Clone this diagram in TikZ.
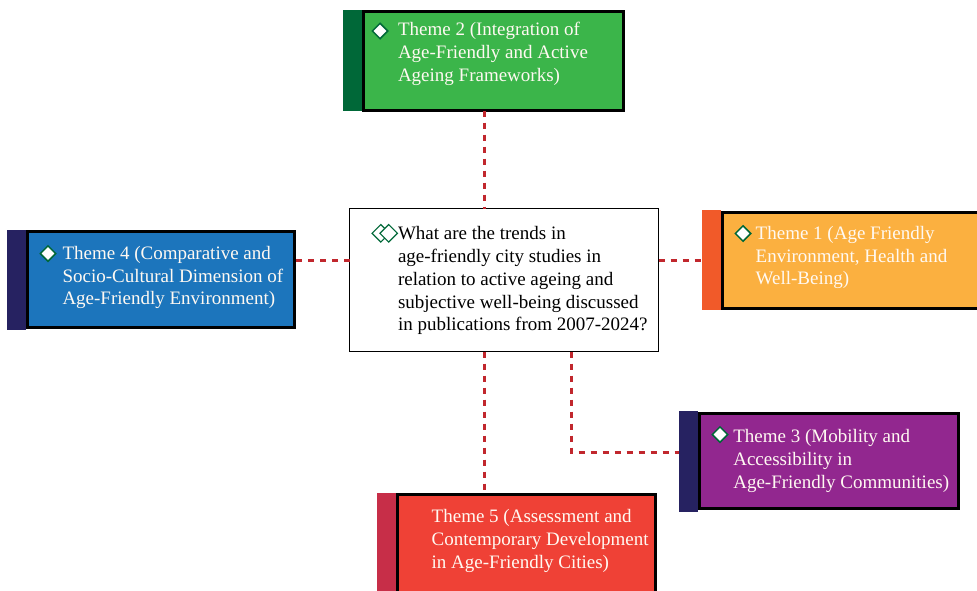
\documentclass[tikz,border=0pt]{standalone}
\usepackage{fontspec}
\setmainfont{Liberation Serif}
\usetikzlibrary{shapes.geometric}

\definecolor{themegreen}{HTML}{3BB54A}
\definecolor{darkgreen}{HTML}{006838}
\definecolor{themeblue}{HTML}{1C75BC}
\definecolor{navy}{HTML}{262261}
\definecolor{themeorange}{HTML}{FBB040}
\definecolor{redorange}{HTML}{F15A29}
\definecolor{themepurple}{HTML}{92278F}
\definecolor{themered}{HTML}{EF4136}
\definecolor{crimson}{HTML}{C72E48}
\definecolor{linkred}{HTML}{C1272D}
\definecolor{lighttext}{HTML}{FFF9F2}

\tikzset{
  stripe/.style={draw=none, anchor=north west, inner sep=0pt, outer sep=0pt},
  themebox/.style={draw=black, line width=3pt, anchor=north west, inner sep=0pt, outer sep=0pt},
  questionbox/.style={draw=black, line width=1.2pt, fill=white, anchor=north west, inner sep=0pt, outer sep=0pt},
  % text nodes are placed by the baseline of their last line
  txt/.style={anchor=base west, align=left, inner sep=0pt, outer sep=0pt,
    font=\fontsize{19}{22.8}\selectfont},
  themetext/.style={txt, text=lighttext},
  bullet/.style={shape=diamond, draw=darkgreen, fill=white, line width=1.5pt,
    minimum width=16pt, minimum height=16pt, inner sep=0pt},
  link/.style={draw=linkred, line width=3pt, dash pattern=on 6pt off 6pt}
}

\begin{document}
\begin{tikzpicture}[x=1pt,y=-1pt]
\useasboundingbox (0,0) rectangle (977,590);
\clip (0,0) rectangle (977,590);

% helper coordinates for connector routes
\coordinate (vmain) at (484,0);
\coordinate (vside) at (571,0);
\coordinate (hmain) at (0,260);
\coordinate (hside) at (0,452);

% central question
\node[questionbox, minimum width=309pt, minimum height=143pt] (q) at (349.5,208.5) {};
\node[bullet, fill=none, line width=1.2pt, minimum width=18pt, minimum height=18pt] (qd1) at (380.8,233.3) {};
\node[bullet, line width=1.2pt, minimum width=18pt, minimum height=18pt] (qd2) at (388.7,233.3) {};
\node[txt] (qt) at (398,330.8) {What are the trends in\\age-friendly city studies in\\relation to active ageing and\\subjective well-being discussed\\in publications from 2007-2024?};

% Theme 2
\node[stripe, fill=darkgreen, minimum width=19pt, minimum height=101pt] (s2) at (343,10) {};
\node[themebox, fill=themegreen, minimum width=260pt, minimum height=99pt] (t2) at (363.5,11.5) {};
\node[bullet] (d2) at (380,31) {};
\node[themetext] (l2) at (398,81.3) {Theme 2 (Integration of\\Age-Friendly and Active\\Ageing Frameworks)};

% Theme 4
\node[stripe, fill=navy, minimum width=19pt, minimum height=100pt] (s4) at (7,230) {};
\node[themebox, fill=themeblue, minimum width=267pt, minimum height=96pt] (t4) at (27.5,231.5) {};
\node[bullet] (d4) at (48,253.5) {};
\node[themetext] (l4) at (62.5,304.9) {Theme 4 (Comparative and\\Socio-Cultural Dimension of\\Age-Friendly Environment)};

% Theme 1
\node[stripe, fill=redorange, minimum width=19pt, minimum height=100pt] (s1) at (702,210) {};
\node[themebox, fill=themeorange, minimum width=270pt, minimum height=96pt] (t1) at (722.5,212) {};
\node[bullet] (d1) at (743,233.5) {};
\node[themetext] (l1) at (755.7,284.9) {Theme 1 (Age Friendly\\Environment, Health and\\Well-Being)};

% Theme 3
\node[stripe, fill=navy, minimum width=19pt, minimum height=101pt] (s3) at (679,411) {};
\node[themebox, fill=themepurple, minimum width=259pt, minimum height=95pt] (t3) at (699.5,413.5) {};
\node[bullet] (d3) at (720,434.5) {};
\node[themetext] (l3) at (733.3,488.3) {Theme 3 (Mobility and\\Accessibility in\\Age-Friendly Communities)};

% Theme 5
\node[stripe, fill=crimson, minimum width=19pt, minimum height=110pt] (s5) at (377,493) {};
\node[themebox, fill=themered, minimum width=258pt, minimum height=110pt] (t5) at (397.5,494.5) {};
\node[themetext] (l5) at (431.7,568.3) {Theme 5 (Assessment and\\Contemporary Development\\in Age-Friendly Cities)};

% dashed connectors
\draw[link] (t2.south -| vmain) -- (q.north -| vmain);
\draw[link] (q.west |- hmain) -- (t4.east |- hmain);
\draw[link] (q.east |- hmain) -- (s1.west |- hmain);
\draw[link] (q.south -| vmain) -- (t5.north -| vmain);
\draw[link] (q.south -| vside) |- (s3.west |- hside);
\end{tikzpicture}
\end{document}
